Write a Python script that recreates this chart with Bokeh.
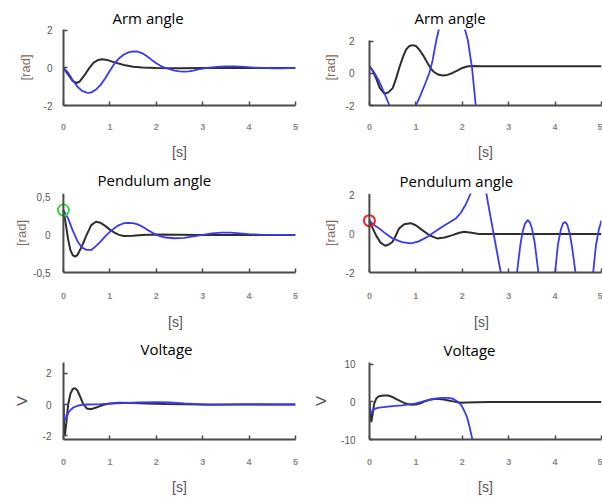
from bokeh.plotting import figure
from bokeh.layouts import column, row
from bokeh.models import FixedTicker, Range1d, Span
from bokeh.embed import file_html
from bokeh.resources import INLINE

# ---------------- data ----------------
X_TICKS = [0, 1, 2, 3, 4, 5]
X_LABEL = "[s]"
ARM_TITLE = "Arm angle"
PEND_TITLE = "Pendulum angle"
VOLT_TITLE = "Voltage"
RAD_LABEL = "[rad]"
VOLT_LABEL = "V"

ARM_TICKS = [-2, 0, 2]
PEND_L_TICKS = [-0.5, 0, 0.5]
PEND_L_TICK_LABELS = ["-0,5", "0", "0,5"]
PEND_R_TICKS = [-2, 0, 2]
VOLT_L_TICKS = [-2, 0, 2]
VOLT_R_TICKS = [-10, 0, 10]

# Arm angle, left (stable)
arm_l_black_t = [0, 0.1, 0.2, 0.28, 0.35, 0.45, 0.55, 0.65, 0.75, 0.83, 0.95, 1.1, 1.3, 1.5, 1.7, 2.0, 2.5, 3.0, 4.0, 5.0]
arm_l_black = [0, -0.35, -0.7, -0.8, -0.72, -0.4, -0.02, 0.28, 0.43, 0.46, 0.42, 0.3, 0.16, 0.07, 0.02, 0.0, -0.01, 0.0, 0.0, 0.0]
arm_l_blue_t = [0, 0.1, 0.2, 0.3, 0.4, 0.5, 0.55, 0.6, 0.7, 0.8, 0.9, 1.0, 1.1, 1.2, 1.3, 1.4, 1.5, 1.6, 1.7, 1.8,
                1.9, 2.0, 2.1, 2.2, 2.3, 2.4, 2.5, 2.6, 2.7, 2.8, 2.9, 3.0, 3.1, 3.3, 3.5, 3.7, 3.9, 4.1, 4.3, 4.5, 4.7, 5.0]
arm_l_blue = [0, -0.25, -0.65, -1.0, -1.22, -1.31, -1.33, -1.3, -1.15, -0.9, -0.55, -0.15, 0.24, 0.52, 0.72, 0.83,
              0.88, 0.87, 0.78, 0.62, 0.43, 0.25, 0.1, 0.0, -0.08, -0.14, -0.18, -0.19, -0.18, -0.14, -0.08, -0.03,
              0.01, 0.06, 0.09, 0.09, 0.06, 0.02, 0.0, -0.02, -0.02, 0.0]

# Arm angle, right (unstable)
arm_r_black_t = [0, 0.07, 0.14, 0.22, 0.32, 0.4, 0.5, 0.57, 0.64, 0.72, 0.79, 0.86, 0.93, 1.0, 1.07, 1.16, 1.25,
                 1.32, 1.39, 1.48, 1.57, 1.68, 1.79, 1.9, 2.0, 2.1, 2.21, 2.4, 3.0, 4.0, 5.0]
arm_r_black = [0.44, 0.15, -0.29, -0.9, -1.27, -1.2, -0.92, -0.35, 0.33, 1.0, 1.48, 1.7, 1.75, 1.7, 1.48, 1.1, 0.64,
               0.3, 0.08, -0.08, -0.14, -0.1, 0.02, 0.18, 0.33, 0.42, 0.46, 0.44, 0.44, 0.44, 0.44]
arm_r_blue_t = [0, 0.1, 0.2, 0.3, 0.43, 0.55, 0.7, 0.85, 1.0, 1.1, 1.2, 1.29, 1.36, 1.44, 1.5, 1.65, 1.8, 1.95,
                2.05, 2.12, 2.21, 2.29, 2.4]
arm_r_blue = [0.44, 0.05, -0.45, -1.1, -2.0, -2.6, -2.9, -2.6, -2.0, -1.35, -0.65, 0.02, 0.8, 2.05, 2.8, 3.6, 3.9,
              3.5, 2.8, 2.05, 0.33, -2.0, -4.5]

# Pendulum angle, left
pend_l_black_t = [0, 0.05, 0.1, 0.15, 0.2, 0.25, 0.3, 0.4, 0.5, 0.6, 0.7, 0.8, 0.9, 1.0, 1.1, 1.2, 1.3, 1.5, 1.7,
                  2.0, 3.0, 4.0, 5.0]
pend_l_black = [0.33, 0.15, -0.05, -0.2, -0.27, -0.29, -0.27, -0.15, 0.0, 0.13, 0.175, 0.16, 0.12, 0.07, 0.03, 0.0,
                -0.015, -0.01, 0.0, 0.005, 0.0, 0.0, 0.0]
pend_l_blue_t = [0, 0.1, 0.2, 0.3, 0.4, 0.5, 0.6, 0.7, 0.8, 0.9, 1.0, 1.1, 1.2, 1.3, 1.4, 1.5, 1.6, 1.7, 1.8, 1.9,
                 2.0, 2.1, 2.2, 2.4, 2.6, 2.8, 3.0, 3.2, 3.4, 3.6, 3.8, 4.0, 4.3, 5.0]
pend_l_blue = [0.33, 0.22, 0.06, -0.08, -0.17, -0.2, -0.2, -0.15, -0.09, -0.02, 0.04, 0.09, 0.13, 0.155, 0.16, 0.155,
               0.14, 0.11, 0.07, 0.035, 0.0, -0.02, -0.035, -0.045, -0.04, -0.02, 0.0, 0.02, 0.03, 0.03, 0.02, 0.01,
               0.0, 0.0]

# Pendulum angle, right
pend_r_black_t = [0, 0.07, 0.14, 0.24, 0.34, 0.42, 0.5, 0.57, 0.64, 0.75, 0.89, 1.0, 1.14, 1.3, 1.46, 1.62, 1.79,
                  1.92, 2.04, 2.2, 2.36, 3.0, 4.0, 5.0]
pend_r_black = [0.69, 0.3, -0.06, -0.45, -0.61, -0.55, -0.4, -0.08, 0.29, 0.5, 0.56, 0.45, 0.2, -0.08, -0.23, -0.18,
                -0.06, 0.05, 0.11, 0.06, 0.0, 0.0, 0.0, 0.0]
pend_r_blue_t = [0, 0.1, 0.21, 0.35, 0.5, 0.7, 0.89, 1.05, 1.25, 1.4, 1.57, 1.72, 1.86, 1.97, 2.07, 2.18, 2.34,
                 2.52, 2.6, 2.7, 2.83, 3.0, 3.18, 3.25, 3.3, 3.35, 3.41, 3.46, 3.5, 3.56, 3.64, 3.82, 4.0, 4.06,
                 4.12, 4.17, 4.21, 4.26, 4.32, 4.37, 4.44, 4.63, 4.82, 4.88, 4.94, 5.0]
pend_r_blue = [0.69, 0.47, 0.29, 0.02, -0.23, -0.42, -0.49, -0.4, -0.15, 0.1, 0.37, 0.6, 0.8, 1.1, 1.5, 2.1, 4.0,
               2.1, 1.0, -0.3, -2.0, -4.5, -2.0, -0.6, 0.1, 0.53, 0.72, 0.59, 0.3, -0.44, -2.0, -4.5, -2.0, -0.58,
               0.19, 0.54, 0.63, 0.5, -0.02, -0.75, -2.0, -4.5, -2.0, -0.6, 0.2, 0.7]

# Voltage, left
volt_l_black_t = [0, 0.015, 0.03, 0.06, 0.1, 0.15, 0.2, 0.25, 0.3, 0.36, 0.42, 0.5, 0.6, 0.72, 0.86, 1.0, 1.2, 1.5,
                  1.8, 2.2, 2.6, 3.0, 4.0, 5.0]
volt_l_black = [0, -1.6, -2.0, -1.2, 0.0, 0.7, 1.0, 1.05, 0.9, 0.5, 0.05, -0.25, -0.3, -0.18, -0.02, 0.07, 0.12,
                0.1, 0.07, 0.03, 0.01, 0.0, 0.0, 0.0]
volt_l_blue_t = [0, 0.015, 0.04, 0.07, 0.1, 0.15, 0.22, 0.3, 0.4, 0.5, 0.8, 1.0, 1.3, 1.6, 2.0, 2.3, 2.6, 3.0, 3.2,
                 3.5, 4.0, 4.5, 5.0]
volt_l_blue = [0, -0.6, -1.0, -0.85, -0.55, -0.35, -0.18, -0.08, -0.03, 0.0, 0.02, 0.05, 0.09, 0.13, 0.15, 0.13,
               0.07, 0.0, -0.03, -0.01, 0.02, 0.0, 0.0]

# Voltage, right
volt_r_black_t = [0, 0.02, 0.04, 0.07, 0.1, 0.15, 0.2, 0.3, 0.4, 0.5, 0.6, 0.7, 0.8, 0.9, 1.0, 1.1, 1.2, 1.3, 1.4,
                  1.5, 1.6, 1.7, 1.8, 1.9, 2.0, 2.1, 2.3, 2.6, 5.0]
volt_r_black = [0, -3.0, -5.4, -3.0, -0.5, 1.0, 1.5, 1.7, 1.7, 1.3, 0.6, 0.0, -0.5, -0.75, -0.7, -0.35, 0.2, 0.6,
                0.8, 0.8, 0.65, 0.4, 0.15, -0.1, -0.2, -0.15, -0.05, 0.0, 0.0]
volt_r_blue_t = [0, 0.02, 0.04, 0.07, 0.12, 0.2, 0.35, 0.5, 0.7, 0.9, 1.0, 1.1, 1.2, 1.3, 1.4, 1.5, 1.6, 1.7, 1.8,
                 1.9, 1.95, 2.0, 2.05, 2.1, 2.15, 2.2, 2.22, 2.3]
volt_r_blue = [0, -2.5, -3.2, -2.3, -1.8, -1.5, -1.3, -1.1, -0.9, -0.6, -0.4, -0.05, 0.3, 0.6, 0.85, 1.0, 1.1, 1.1,
               0.85, 0.05, -0.5, -1.3, -2.6, -4.0, -6.3, -9.0, -10.0, -14.0]

# initial-condition markers
START_T = [0.0]
PEND_L_START = [0.33]
PEND_R_START = [0.69]

BLACK = "#2e2e2e"
BLUE = "#3a3af0"
AXIS_C = "#4a4a4a"


def make_panel(title, ylabel, yticks, ytick_labels, yrange, black, blue, g, xstart=0.0, ybounds=None):
    p = figure(width=301, height=g["h"], x_range=Range1d(xstart, 5), y_range=Range1d(*yrange),
               output_backend="svg", toolbar_location=None, title=title,
               min_border_left=g["bl"], min_border_right=g["br"],
               min_border_top=g["bt"], min_border_bottom=g["bb"])
    p.outline_line_color = None
    p.grid.visible = False
    p.background_fill_color = "white"
    p.border_fill_color = "white"

    p.title.align = "left"
    p.title.offset = g["toff"]
    p.title.standoff = g["tstd"]
    p.title.vertical_align = g.get("tva", "bottom")
    p.title.text_font = "Open Sans"
    p.title.text_font_size = "15px"
    p.title.text_font_style = "normal"
    p.title.text_color = "#000000"

    xa = p.xaxis[0]
    xa.ticker = FixedTicker(ticks=X_TICKS)
    xa.bounds = (0, 5)
    xa.axis_label = X_LABEL
    xa.axis_label_text_font = "Liberation Sans"
    xa.axis_label_text_font_size = "14px"
    xa.axis_label_text_font_style = "normal"
    xa.axis_label_text_color = "#555555"
    xa.axis_label_standoff = g["xals"]
    xa.major_label_standoff = g["xstd"]
    xa.major_label_text_font = "Liberation Sans"
    xa.major_label_text_font_size = "9px"
    xa.major_label_text_font_style = "bold"
    xa.major_label_text_color = "#8a8a8a"

    ya = p.yaxis[0]
    ya.ticker = FixedTicker(ticks=yticks)
    ya.major_label_overrides = {t: lab for t, lab in zip(yticks, ytick_labels)}
    if ybounds is not None:
        ya.bounds = ybounds
    ya.axis_label = ylabel
    ya.axis_label_text_font = "Liberation Sans"
    ya.axis_label_text_font_size = g["ylfs"]
    ya.axis_label_text_font_style = "normal"
    ya.axis_label_text_color = g["ylc"]
    ya.axis_label_standoff = g["yals"]
    ya.major_label_standoff = g["ystd"]
    ya.major_label_text_font = "Liberation Sans"
    ya.major_label_text_font_size = "10px"
    ya.major_label_text_color = "#555555"

    for ax in (xa, ya):
        ax.axis_line_color = AXIS_C
        ax.axis_line_width = 2
        ax.major_tick_in = 4
        ax.major_tick_out = 0
        ax.major_tick_line_color = AXIS_C
        ax.major_tick_line_width = 1.5
        ax.minor_tick_line_color = None

    if xstart != 0.0:
        # frame starts a little left of t = 0 so the start marker is not cut;
        # the vertical axis line is drawn at t = 0
        ya.axis_line_color = None
        ya.major_tick_in = 0
        p.add_layout(Span(location=0, dimension="height", line_color=AXIS_C, line_width=2))

    p.line(black[0], black[1], line_color=BLACK, line_width=2)
    p.line(blue[0], blue[1], line_color=BLUE, line_width=1.8)
    return p


RAD_C = "#7f6a5f"
V_C = "#555555"

g1 = dict(h=163, bl=63, br=6, bt=29, bb=58, toff=49, tstd=3, xstd=18, xals=11, ystd=11, yals=8, ylfs="13px", ylc=RAD_C)
g2 = dict(h=163, bl=68, br=1, bt=29, bb=58, toff=45, tstd=3, xstd=18, xals=11, ystd=15, yals=5, ylfs="13px", ylc=RAD_C)
g3 = dict(h=170, bl=55, br=6, bt=30, bb=61, toff=42, tstd=7, xstd=20, xals=12, ystd=5, yals=1, ylfs="13px", ylc=RAD_C)
g4 = dict(h=170, bl=60, br=1, bt=30, bb=61, toff=38, tstd=6, xstd=20, xals=12, ystd=7, yals=5, ylfs="13px", ylc=RAD_C)
g5 = dict(h=164, bl=63, br=6, bt=29, bb=57, toff=77, tstd=4, tva="top", xstd=19, xals=11, ystd=12, yals=10, ylfs="15px", ylc=V_C)
g6 = dict(h=164, bl=68, br=1, bt=29, bb=57, toff=74, tstd=6, xstd=19, xals=11, ystd=14, yals=9, ylfs="15px", ylc=V_C)

p1 = make_panel(ARM_TITLE, RAD_LABEL, ARM_TICKS, [str(t) for t in ARM_TICKS], (-2, 2.05),
                (arm_l_black_t, arm_l_black), (arm_l_blue_t, arm_l_blue), g1)
p2 = make_panel(ARM_TITLE, RAD_LABEL, ARM_TICKS, [str(t) for t in ARM_TICKS], (-2, 2.72),
                (arm_r_black_t, arm_r_black), (arm_r_blue_t, arm_r_blue), g2, ybounds=(-2, 2.06))
p3 = make_panel(PEND_TITLE, RAD_LABEL, PEND_L_TICKS, PEND_L_TICK_LABELS, (-0.5, 0.55),
                (pend_l_black_t, pend_l_black), (pend_l_blue_t, pend_l_blue), g3, xstart=-0.17)
p4 = make_panel(PEND_TITLE, RAD_LABEL, PEND_R_TICKS, [str(t) for t in PEND_R_TICKS], (-2, 2.1),
                (pend_r_black_t, pend_r_black), (pend_r_blue_t, pend_r_blue), g4, xstart=-0.17)
p5 = make_panel(VOLT_TITLE, VOLT_LABEL, VOLT_L_TICKS, [str(t) for t in VOLT_L_TICKS], (-2.25, 2.7),
                (volt_l_black_t, volt_l_black), (volt_l_blue_t, volt_l_blue), g5)
p6 = make_panel(VOLT_TITLE, VOLT_LABEL, VOLT_R_TICKS, [str(t) for t in VOLT_R_TICKS], (-10, 10.5),
                (volt_r_black_t, volt_r_black), (volt_r_blue_t, volt_r_blue), g6)

p3.scatter(START_T, PEND_L_START, marker="circle", size=11, fill_alpha=0, line_color="#33dd33", line_width=2)
p4.scatter(START_T, PEND_R_START, marker="circle", size=11, fill_alpha=0, line_color="#ee2222", line_width=2)

layout = column(row(p1, p2), row(p3, p4), row(p5, p6))
open("out.html", "w").write(file_html(layout, INLINE))
